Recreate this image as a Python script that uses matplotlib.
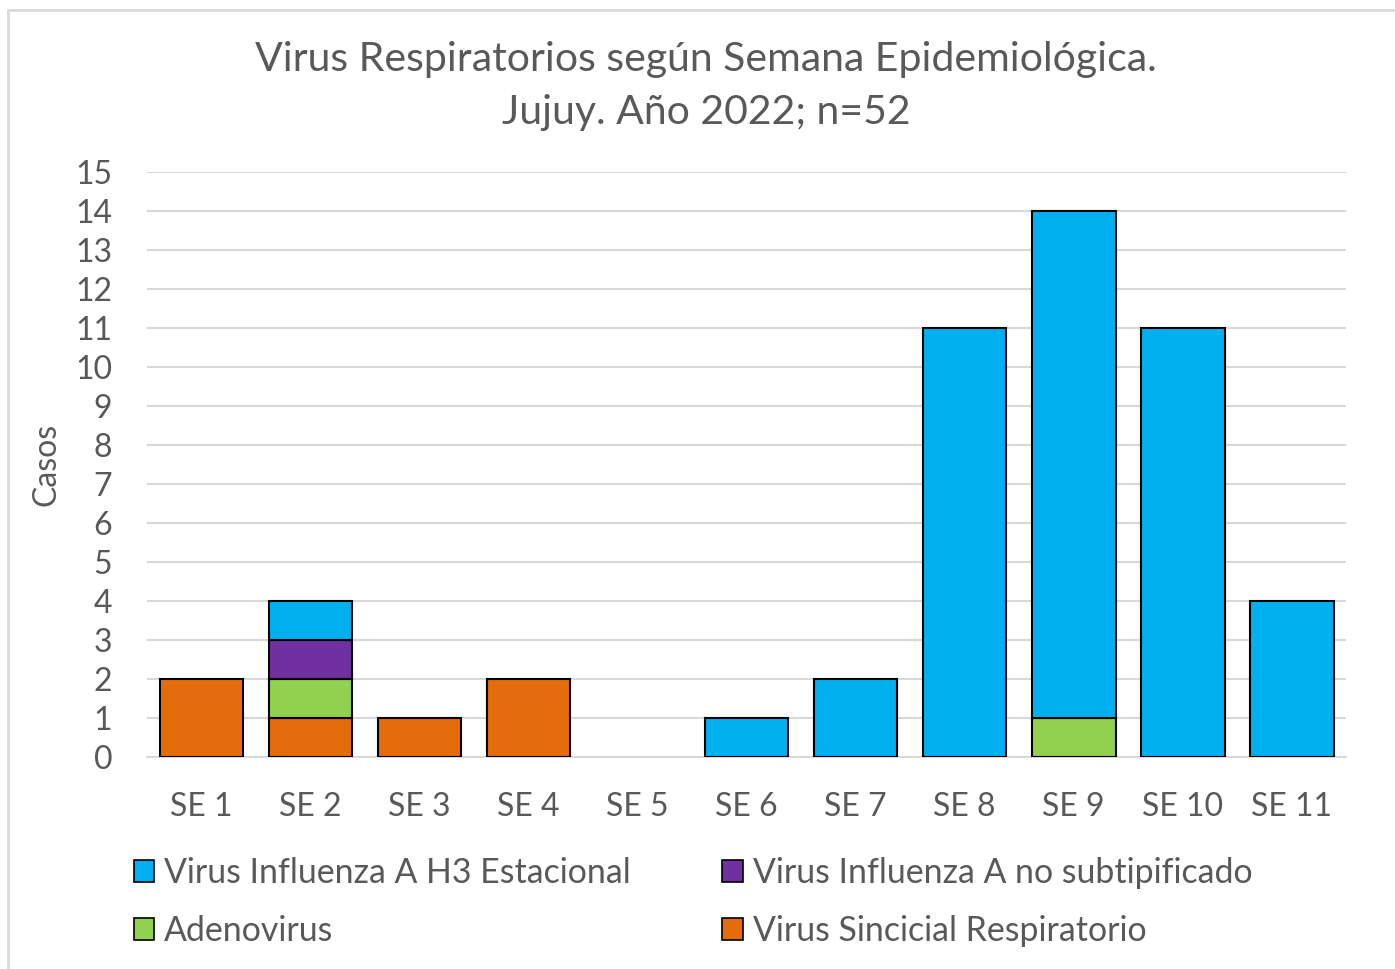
import matplotlib.pyplot as plt
from matplotlib.patches import Rectangle, Patch
import numpy as np

semanas = ["SE 1", "SE 2", "SE 3", "SE 4", "SE 5", "SE 6", "SE 7", "SE 8", "SE 9", "SE 10", "SE 11"]
vsr = [2, 1, 1, 2, 0, 0, 0, 0, 0, 0, 0]
adenovirus = [0, 1, 0, 0, 0, 0, 0, 0, 1, 0, 0]
flu_a_no_sub = [0, 1, 0, 0, 0, 0, 0, 0, 0, 0, 0]
flu_a_h3 = [0, 1, 0, 0, 0, 1, 2, 11, 13, 11, 4]

series = [
    ("Virus Sincicial Respiratorio", vsr, "#E46C0A"),
    ("Adenovirus", adenovirus, "#92D050"),
    ("Virus Influenza A no subtipificado", flu_a_no_sub, "#7030A0"),
    ("Virus Influenza A H3 Estacional", flu_a_h3, "#00B0F0"),
]

plt.rcParams['font.family'] = ['Lato', 'DejaVu Sans']
gris = "#595959"

fig = plt.figure(figsize=(13.95, 9.69), dpi=100)
ax = fig.add_axes([0.1054, 0.2188, 0.8595, 0.6037])

# marco gris de la figura
fig.patches.append(Rectangle((8 / 1395, -0.01), 1.02, 1 - 10 / 969 + 0.01,
                             transform=fig.transFigure, fill=False,
                             edgecolor="#d9d9d9", linewidth=2))

x = np.arange(len(semanas))
base = np.zeros(len(semanas))
handles = {}
for nombre, valores, color in series:
    v = np.array(valores, dtype=float)
    mask = v > 0
    ax.bar(x[mask], v[mask], bottom=base[mask], width=0.77, color=color,
           edgecolor="black", linewidth=1.5, zorder=3)
    handles[nombre] = Patch(facecolor=color, edgecolor="black", linewidth=1.2)
    base += v

ax.set_xlim(-0.5, len(semanas) - 0.5)
ax.set_ylim(0, 15)
ax.set_yticks(range(0, 16))
ax.set_xticks(x)
ax.set_xticklabels(semanas)
ax.tick_params(axis='both', length=0, labelsize=23, colors=gris)
ax.tick_params(axis='x', pad=25)
ax.tick_params(axis='y', pad=25)
ax.grid(axis='y', color="#d9d9d9", linewidth=1.5, zorder=0)
for s in ["top", "right", "left"]:
    ax.spines[s].set_visible(False)
ax.spines["bottom"].set_color("#d9d9d9")
ax.spines["bottom"].set_linewidth(1.5)

ax.set_ylabel("Casos", fontsize=23, color=gris, labelpad=10)

fig.text(0.506, 0.911, "Virus Respiratorios según Semana Epidemiológica.\nJujuy. Año 2022; n=52",
         ha="center", va="center", fontsize=29.5, color=gris, linespacing=1.55)

orden = ["Virus Influenza A H3 Estacional", "Adenovirus",
         "Virus Influenza A no subtipificado", "Virus Sincicial Respiratorio"]
fig.legend([handles[n] for n in orden], orden, ncol=2, loc="center left",
           bbox_to_anchor=(0.074, 0.069), frameon=False, fontsize=24.4,
           labelcolor=gris, handlelength=0.6, handleheight=0.6,
           handletextpad=0.3, columnspacing=2.7, labelspacing=0.77)

fig.savefig("out.png", dpi=100)
